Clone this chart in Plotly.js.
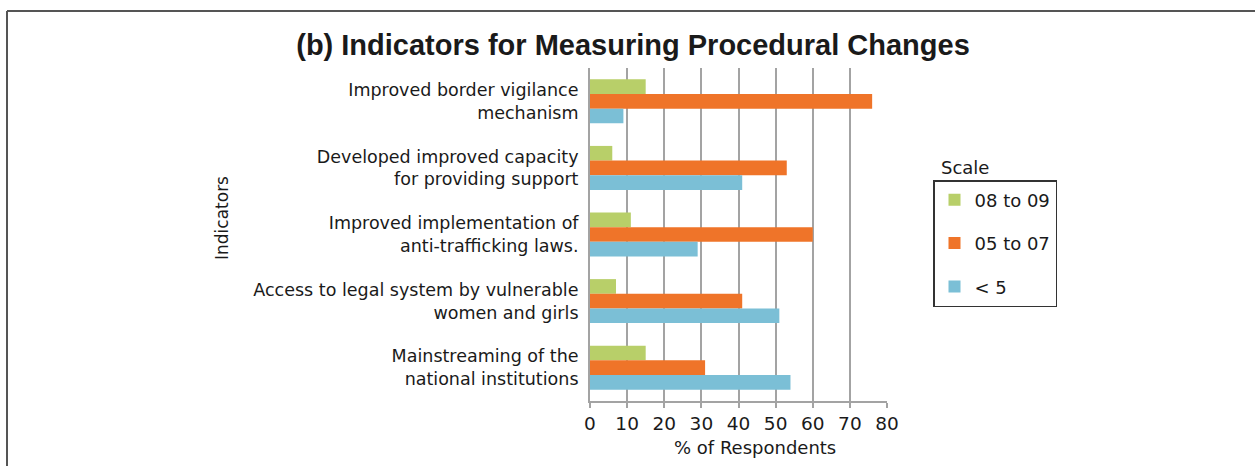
<!DOCTYPE html>
<html>
<head>
<meta charset="utf-8">
<script src="https://cdn.plot.ly/plotly-3.0.1.min.js"></script>
<style>
  html, body { margin: 0; padding: 0; background: #fff; }
  #chart { width: 1255px; height: 466px; }
</style>
</head>
<body>
<div id="chart"></div>
<script>
// ---- data ----
const indicators = [
  "Improved border vigilance<br>mechanism",
  "Developed improved capacity<br>for providing support",
  "Improved implementation of<br>anti-trafficking laws.",
  "Access to legal system by vulnerable<br>women and girls",
  "Mainstreaming of the<br>national institutions"
];
const seriesNames = ["08 to 09", "05 to 07", "< 5"];
const scale0809 = [15, 6, 11, 7, 15];
const scale0507 = [76, 53, 60, 41, 31];
const scaleLt5  = [9, 41, 29, 51, 54];
const xTicks = [0, 10, 20, 30, 40, 50, 60, 70, 80];

// ---- styling ----
const colors = ["#b8cf69", "#ef7429", "#7bbfd6"];
const FONT = "DejaVu Sans, Liberation Sans, Arial, sans-serif";
const TXT = "#1a1a1a";

// plot area in pixels: x 590..887, y 68..401
const L = 590, R = 887, T = 68, B = 401;
const px = v => (v - L) / (R - L);
const py = v => (B - v) / (B - T);

const values = [scale0809, scale0507, scaleLt5];
const traces = values.map((vals, i) => ({
  type: "bar",
  orientation: "h",
  name: seriesNames[i],
  x: vals,
  y: indicators,
  legendgroup: "g" + i,
  marker: { color: colors[i], line: { width: 0 } },
  hoverinfo: "x+name"
}));

const layout = {
  width: 1255,
  height: 466,
  paper_bgcolor: "#fff",
  plot_bgcolor: "#fff",
  margin: { l: L, r: 1255 - R, t: T, b: 466 - B, pad: 0 },
  barmode: "group",
  bargap: 0.34,
  bargroupgap: 0,
  font: { family: FONT, size: 18, color: TXT },
  title: {
    text: "<b>(b) Indicators for Measuring Procedural Changes</b>",
    font: { family: "Liberation Sans, Arial, sans-serif", size: 29, color: TXT },
    x: 633 / 1255, xanchor: "center", xref: "container",
    y: 1 - 45 / 466, yanchor: "middle", yref: "container"
  },
  xaxis: {
    range: [0, 80],
    tickvals: xTicks,
    ticktext: xTicks.map(String),
    showgrid: true,
    gridcolor: "#a3a3a3",
    gridwidth: 2,
    zeroline: false,
    showline: true,
    linecolor: "#a3a3a3",
    linewidth: 2,
    ticks: "outside",
    ticklen: 5,
    tickwidth: 2,
    tickcolor: "#a3a3a3",
    tickfont: { family: FONT, size: 18.5, color: TXT },
    fixedrange: true
  },
  yaxis: {
    autorange: "reversed",
    type: "category",
    showgrid: false,
    zeroline: false,
    showline: true,
    linecolor: "#a3a3a3",
    linewidth: 2,
    ticks: "",
    ticklabelstandoff: 6,
    tickfont: { family: FONT, size: 17.5, color: TXT },
    fixedrange: true
  },
  showlegend: true,
  legend: {
    x: px(933), xanchor: "left",
    y: py(180), yanchor: "top",
    bordercolor: "#333",
    borderwidth: 1.5,
    bgcolor: "#fff",
    traceorder: "grouped",
    tracegroupgap: 17,
    font: { family: FONT, size: 18, color: TXT }
  },
  annotations: [
    {
      text: "Scale", xref: "paper", yref: "paper",
      x: px(939), y: py(167), xanchor: "left", yanchor: "middle",
      showarrow: false, font: { family: FONT, size: 18, color: TXT }
    },
    {
      text: "% of Respondents", xref: "paper", yref: "paper",
      x: px(755), y: py(447), xanchor: "center", yanchor: "middle",
      showarrow: false, font: { family: FONT, size: 18, color: TXT }
    },
    {
      text: "Indicators", xref: "paper", yref: "paper",
      x: px(222), y: py(218), xanchor: "center", yanchor: "middle",
      textangle: -90,
      showarrow: false, font: { family: FONT, size: 17, color: TXT }
    }
  ],
  shapes: [
    { type: "line", xref: "paper", yref: "paper",
      x0: px(7), x1: px(1260), y0: py(11), y1: py(11),
      line: { color: "#555", width: 2 } },
    { type: "line", xref: "paper", yref: "paper",
      x0: px(7), x1: px(7), y0: py(11), y1: py(470),
      line: { color: "#555", width: 2 } }
  ]
};

Plotly.newPlot("chart", traces, layout, { displayModeBar: false, staticPlot: true });
</script>
</body>
</html>
